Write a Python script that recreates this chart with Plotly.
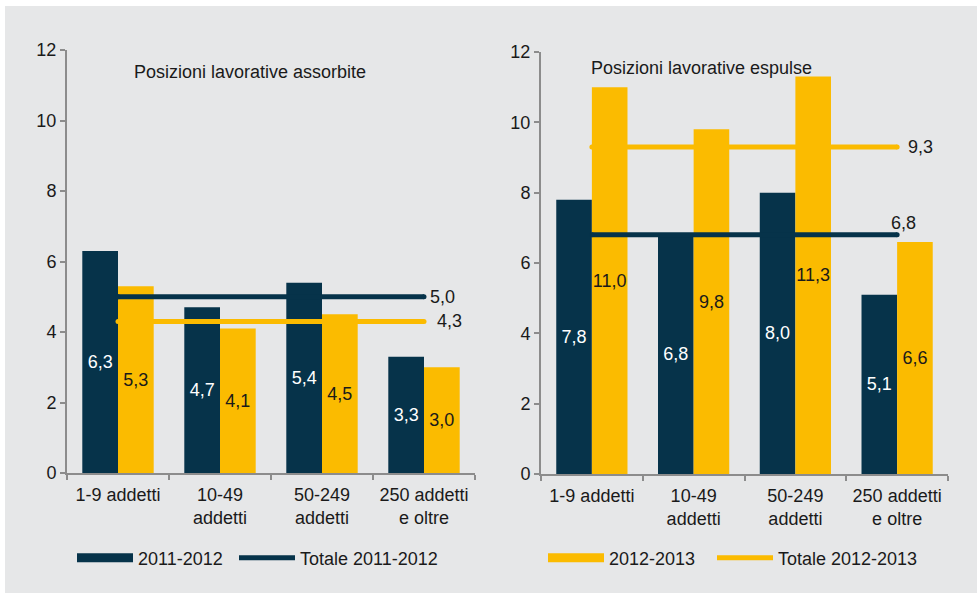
import plotly.graph_objects as go

# Categories (company size classes)
categories = ["1-9 addetti", "10-49<br>addetti", "50-249<br>addetti", "250 addetti<br>e oltre"]

# Posizioni lavorative assorbite (%)
assorbite_2011_2012 = [6.3, 4.7, 5.4, 3.3]
assorbite_2012_2013 = [5.3, 4.1, 4.5, 3.0]
assorbite_totale_2011_2012 = 5.0
assorbite_totale_2012_2013 = 4.3

# Posizioni lavorative espulse (%)
espulse_2011_2012 = [7.8, 6.8, 8.0, 5.1]
espulse_2012_2013 = [11.0, 9.8, 11.3, 6.6]
espulse_totale_2011_2012 = 6.8
espulse_totale_2012_2013 = 9.3

y_ticks = [0, 2, 4, 6, 8, 10, 12]

NAVY = "#06334A"
GOLD = "#FBBB00"
BG = "#E6E7E8"
AXIS = "#8C8C8C"
TEXT = "#1A1A1A"
FONT = "Liberation Sans, Arial, sans-serif"
FS = 18

W, H = 977, 595


def fmt(v):
    return f"{v:.1f}".replace(".", ",")


fig = go.Figure()

panels = [
    ("x", "y", assorbite_2011_2012, assorbite_2012_2013,
     assorbite_totale_2011_2012, assorbite_totale_2012_2013),
    ("x2", "y2", espulse_2011_2012, espulse_2012_2013,
     espulse_totale_2011_2012, espulse_totale_2012_2013),
]

for xa, ya, s1, s2, t1, t2 in panels:
    fig.add_trace(go.Bar(
        x=categories, y=s1, xaxis=xa, yaxis=ya, marker_color=NAVY,
        marker_line_width=0, texttemplate="%{y:.1f}", textposition="inside",
        insidetextanchor="middle", textangle=0, constraintext="none",
        insidetextfont=dict(color="white", size=FS, family=FONT),
        showlegend=False, name="2011-2012",
    ))
    fig.add_trace(go.Bar(
        x=categories, y=s2, xaxis=xa, yaxis=ya, marker_color=GOLD,
        marker_line_width=0, texttemplate="%{y:.1f}", textposition="inside",
        insidetextanchor="middle", textangle=0, constraintext="none",
        insidetextfont=dict(color=TEXT, size=FS, family=FONT),
        showlegend=False, name="2012-2013",
    ))
    for tot, col in ((t1, NAVY), (t2, GOLD)):
        fig.add_trace(go.Scatter(
            x=[categories[0], categories[-1]], y=[tot, tot], xaxis=xa, yaxis=ya,
            mode="lines+markers", line=dict(color=col, width=5),
            marker=dict(color=col, size=5), showlegend=False,
        ))

# Legend entries, one legend box per entry so each can be placed on its own
legend_items = [
    ("2011-2012", NAVY, 9, "legend", 72),
    ("Totale 2011-2012", NAVY, 5, "legend2", 234),
    ("2012-2013", GOLD, 9, "legend3", 543),
    ("Totale 2012-2013", GOLD, 5, "legend4", 712),
]
legend_layout = {}
for name, col, w, lg, px in legend_items:
    fig.add_trace(go.Scatter(
        x=[None], y=[None], mode="lines", line=dict(color=col, width=w),
        name=name, legend=lg, showlegend=True,
    ))
    legend_layout[lg] = dict(
        x=px / W, y=1 - 558 / H, orientation="h", xanchor="left",
        yanchor="middle", bgcolor="rgba(0,0,0,0)", itemwidth=56,
        font=dict(size=FS, color=TEXT, family=FONT),
    )

# Value labels for the total lines
fig.add_annotation(x=categories[-1], y=assorbite_totale_2011_2012, xref="x", yref="y",
                   text=fmt(assorbite_totale_2011_2012), showarrow=False,
                   xanchor="left", xshift=4, yshift=0)
fig.add_annotation(x=categories[-1], y=assorbite_totale_2012_2013, xref="x", yref="y",
                   text=fmt(assorbite_totale_2012_2013), showarrow=False,
                   xanchor="left", xshift=11, yshift=0)
fig.add_annotation(x=categories[-1], y=espulse_totale_2011_2012, xref="x2", yref="y2",
                   text=fmt(espulse_totale_2011_2012), showarrow=False,
                   xanchor="left", xshift=-8, yshift=12)
fig.add_annotation(x=categories[-1], y=espulse_totale_2012_2013, xref="x2", yref="y2",
                   text=fmt(espulse_totale_2012_2013), showarrow=False,
                   xanchor="left", xshift=9, yshift=0)

# Panel titles
fig.add_annotation(x=132 / W, y=1 - 72 / H, xref="paper", yref="paper",
                   text="Posizioni lavorative assorbite", showarrow=False,
                   xanchor="left", yanchor="middle")
fig.add_annotation(x=589 / W, y=1 - 68 / H, xref="paper", yref="paper",
                   text="Posizioni lavorative espulse", showarrow=False,
                   xanchor="left", yanchor="middle")

# Grey panel background
fig.add_shape(type="rect", xref="paper", yref="paper",
              x0=5 / W, x1=1, y0=2 / H, y1=1 - 6 / H,
              fillcolor=BG, line_width=0, layer="below")

axis_common = dict(showline=True, linecolor=AXIS, linewidth=2, showgrid=False,
                   zeroline=False, ticks="outside", ticklen=5, tickcolor=AXIS,
                   tickwidth=2, automargin=False,
                   tickfont=dict(size=FS, color=TEXT, family=FONT))

fig.update_layout(
    width=W, height=H,
    margin=dict(l=0, r=0, t=0, b=0, autoexpand=False),
    paper_bgcolor="white", plot_bgcolor="rgba(0,0,0,0)",
    barmode="group", bargap=0.3, bargroupgap=0,
    separators=",.",
    font=dict(family=FONT, size=FS, color=TEXT),
    xaxis=dict(domain=[67 / W, 475 / W], anchor="y", tickson="boundaries",
               ticklabelstandoff=4, **axis_common),
    yaxis=dict(domain=[1 - 473 / H, 1 - 50 / H], anchor="x", range=[0, 12],
               tickvals=y_ticks, **axis_common),
    xaxis2=dict(domain=[541 / W, 948 / W], anchor="y2", tickson="boundaries",
                ticklabelstandoff=4, **axis_common),
    yaxis2=dict(domain=[1 - 474 / H, 1 - 52 / H], anchor="x2", range=[0, 12],
                tickvals=y_ticks, **axis_common),
    **legend_layout,
)

fig.write_html("out.html")
